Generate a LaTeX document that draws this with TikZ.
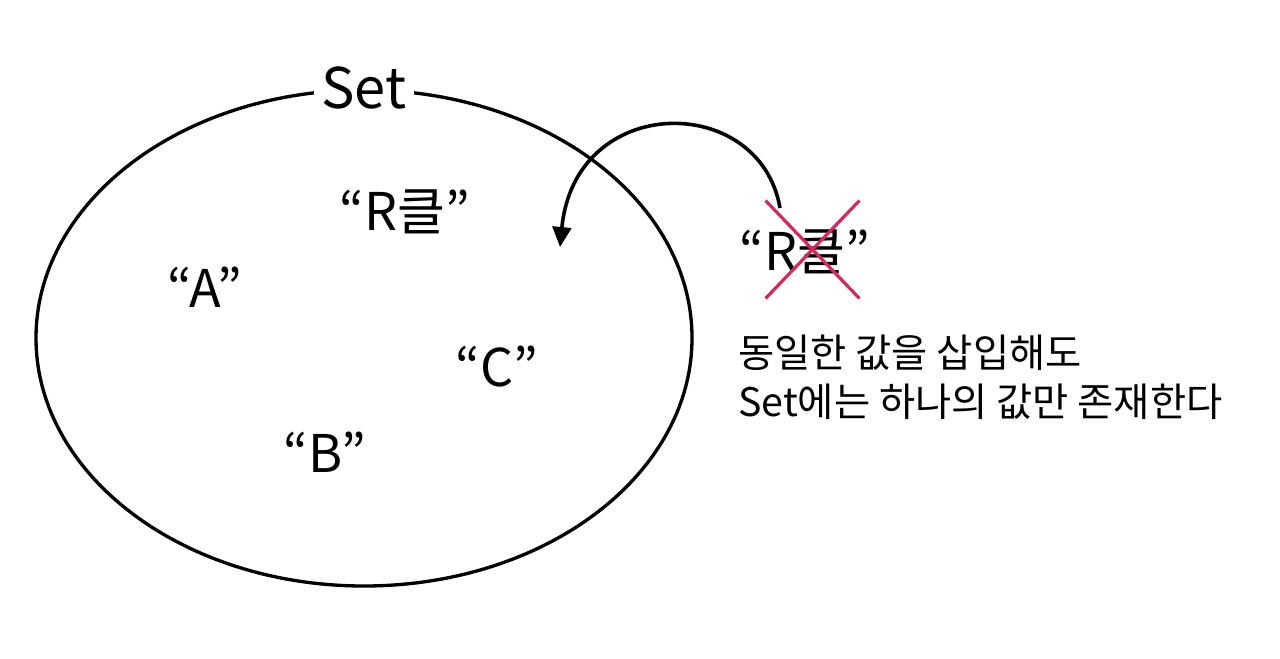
\documentclass[tikz,border=0pt]{standalone}
\usepackage{fontspec}
\setmainfont{Noto Sans CJK KR}
\usetikzlibrary{shapes.misc,arrows.meta}
\definecolor{xred}{RGB}{214,40,90}
\tikzset{
  elem/.style={font=\fontsize{39}{44}\selectfont, inner sep=0pt},
  note/.style={font=\fontsize{29.5}{37}\selectfont, align=left, inner sep=0pt},
}
\begin{document}
\begin{tikzpicture}[x=0.75pt,y=-0.75pt]
  \useasboundingbox (0,0) rectangle (1280,658);
  % the set as an ellipse, its name breaks the outline
  \draw[line width=2.5pt] (364,338) ellipse [x radius=328, y radius=248];
  \node[fill=white, inner xsep=6pt, inner ysep=2pt, font=\fontsize{42}{48}\selectfont] (setname) at (364,88) {Set};
  % values inside the set
  \node[elem] (rk) at (405,212) {“R클”};
  \node[elem] (a) at (205,287) {“A”};
  \node[elem] (c) at (497,367) {“C”};
  \node[elem] (b) at (325,452) {“B”};
  % the duplicate that is refused
  \node[elem] (dup) at (805,252) {“R클”};
  \node[cross out, draw=xred, line width=2.4pt, inner sep=0pt,
        minimum width=68pt, minimum height=71pt] (nope) at (812.5,249.5) {};
  \coordinate (arcstart) at (780,208);
  \coordinate (arcend) at (560,247);
  \draw[line width=2.7pt, -{Triangle[length=15pt,width=14pt]}]
    (arcstart) .. controls (760,92) and (575,92) .. (arcend);
  \node[note, anchor=west] (expl) at (738,377) {동일한 값을 삽입해도\\Set에는 하나의 값만 존재한다};
\end{tikzpicture}
\end{document}
